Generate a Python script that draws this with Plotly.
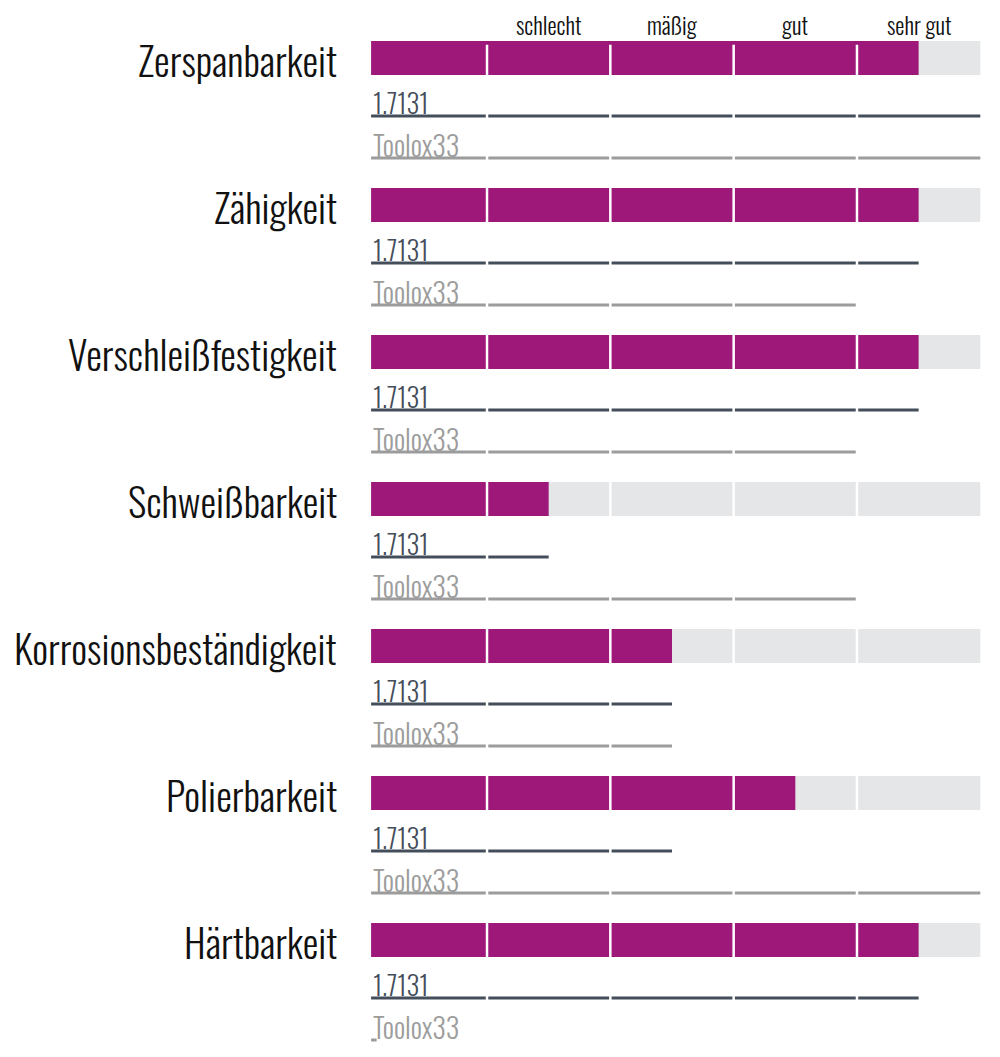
import plotly.graph_objects as go

# ---------------- data ----------------
properties = ["Zerspanbarkeit", "Zähigkeit", "Verschleißfestigkeit", "Schweißbarkeit",
              "Korrosionsbeständigkeit", "Polierbarkeit", "Härtbarkeit"]
rating = [9, 9, 9, 3, 5, 7, 9]            # magenta bar
steel_17131 = [10, 9, 9, 3, 5, 5, 9]      # dark line
toolox33 = [10, 8, 8, 8, 5, 10, 0]        # grey line
scale_labels = ["schlecht", "mäßig", "gut", "sehr gut"]
scale_positions = [3, 5, 7, 9]
segment_bounds = [2, 4, 6, 8]
scale_max = 10
material_names = ["1.7131", "Toolox33"]

# ---------------- style / layout ----------------
FONT = "Oswald, 'Roboto Condensed', 'Liberation Sans Narrow', 'DejaVu Sans Condensed', Roboto, sans-serif"
MAGENTA = "#9d1879"
TRACK = "#e5e6e8"
DARK = "#444d5a"
GREY = "#9c9c9c"
BASE = 0.12           # bars start slightly right of zero
MIN_TICK = 0.09
ROW_PX = 147.0
OFF_L1 = 58 / ROW_PX
OFF_L2 = 100 / ROW_PX
OFF_T1 = 44 / ROW_PX
OFF_T2 = 86 / ROW_PX
BAR_W = 34 / ROW_PX

PAGE_OFF = 8          # browser body margin
W, H = 1000 - PAGE_OFF, 1057 - PAGE_OFF
ROW0_PX = 58 - PAGE_OFF
rows = list(range(len(properties)))

fig = go.Figure()

# grey tracks
fig.add_trace(go.Bar(orientation="h", y=rows, x=[scale_max - BASE] * len(rows), base=BASE,
                     width=BAR_W, marker=dict(color=TRACK, line=dict(width=0)),
                     hoverinfo="skip", showlegend=False))
# magenta rating bars
fig.add_trace(go.Bar(orientation="h", y=rows, x=[v - BASE for v in rating], base=BASE,
                     width=BAR_W, marker=dict(color=MAGENTA, line=dict(width=0)),
                     hoverinfo="skip", showlegend=False))


def line_xy(values, off):
    xs, ys = [], []
    for r, v in zip(rows, values):
        xs += [BASE, max(v, BASE + MIN_TICK), None]
        ys += [r + off, r + off, None]
    return xs, ys


for vals, off, col in [(steel_17131, OFF_L1, DARK), (toolox33, OFF_L2, GREY)]:
    xs, ys = line_xy(vals, off)
    fig.add_trace(go.Scatter(x=xs, y=ys, mode="lines", line=dict(color=col, width=3),
                             hoverinfo="skip", showlegend=False))

# white segment separators
for b in segment_bounds:
    fig.add_shape(type="line", xref="x", yref="paper", x0=b, x1=b, y0=0, y1=0.965,
                  line=dict(color="white", width=2.5), layer="above")

annotations = []
for r, name in zip(rows, properties):
    annotations.append(dict(x=(339 - PAGE_OFF) / W, xref="paper", y=r + 0.01, yref="y", text=name,
                            showarrow=False, xanchor="right", yanchor="middle",
                            font=dict(family=FONT, size=39.5, color="#111111", weight=300)))
    annotations.append(dict(x=BASE, xref="x", y=r + OFF_T1, yref="y", text=material_names[0],
                            showarrow=False, xanchor="left", yanchor="middle",
                            font=dict(family=FONT, size=26.5, color=DARK, weight=300)))
    annotations.append(dict(x=BASE, xref="x", y=r + OFF_T2, yref="y", text=material_names[1],
                            showarrow=False, xanchor="left", yanchor="middle",
                            font=dict(family=FONT, size=28, color=GREY, weight=300)))
for pos, lab in zip(scale_positions, scale_labels):
    annotations.append(dict(x=pos, xref="x", y=-33 / ROW_PX, yref="y", text=lab,
                            showarrow=False, xanchor="center", yanchor="middle",
                            font=dict(family=FONT, size=23, color="#111111", weight=300)))

x0_px, x10_px = 363.7 - PAGE_OFF, 980.3 - PAGE_OFF
fig.update_layout(
    width=W, height=H, margin=dict(l=0, r=0, t=0, b=0),
    paper_bgcolor="white", plot_bgcolor="white",
    barmode="overlay", showlegend=False,
    annotations=annotations,
    xaxis=dict(domain=[0, 1], range=[-x0_px / (x10_px - x0_px) * scale_max,
                                     (W - x0_px) / (x10_px - x0_px) * scale_max],
               visible=False, fixedrange=True),
    yaxis=dict(range=[(H - ROW0_PX) / ROW_PX, -ROW0_PX / ROW_PX], visible=False, fixedrange=True),
)

fig.write_html("out.html")
